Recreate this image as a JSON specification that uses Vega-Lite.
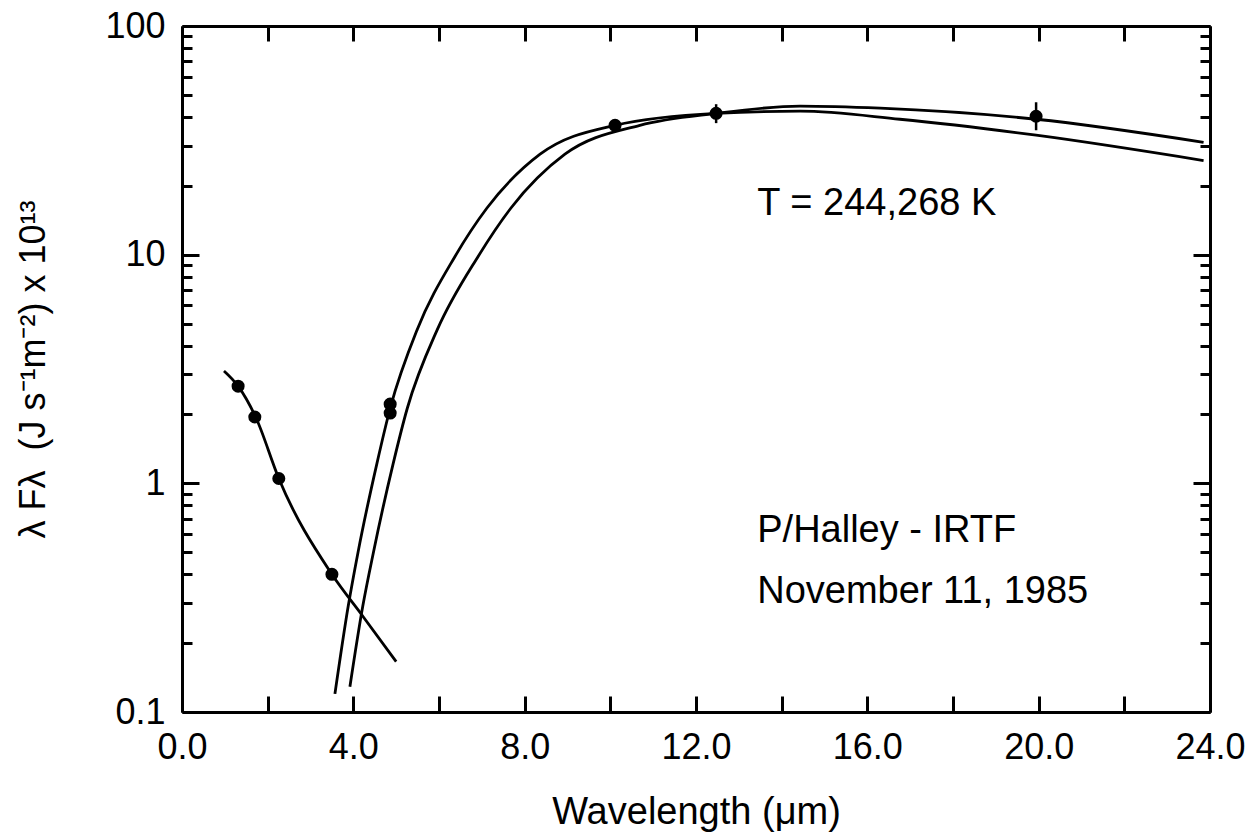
{
  "$schema": "https://vega.github.io/schema/vega-lite/v6.json",
  "width": 1028,
  "height": 686,
  "autosize": {"type": "none"},
  "padding": {"left": 182, "top": 26, "right": 48, "bottom": 124},
  "background": "white",
  "config": {
    "view": {"stroke": null},
    "font": "Liberation Sans",
    "axis": {
      "grid": false,
      "domainColor": "black",
      "domainWidth": 3,
      "tickColor": "black",
      "tickWidth": 3,
      "labelFont": "Liberation Sans",
      "labelFontSize": 36,
      "labelColor": "black",
      "titleFont": "Liberation Sans",
      "titleColor": "black",
      "titleFontWeight": "normal",
      "labelOverlap": false,
      "labelFlush": false
    }
  },
  "datasets": {
    "curves": [
      {"curve": "S", "x": 0.98, "y": 3.10},
      {"curve": "S", "x": 1.31, "y": 2.66},
      {"curve": "S", "x": 1.73, "y": 1.93},
      {"curve": "S", "x": 2.26, "y": 1.05},
      {"curve": "S", "x": 3.50, "y": 0.40},
      {"curve": "S", "x": 4.23, "y": 0.261},
      {"curve": "S", "x": 5.00, "y": 0.166},
      {"curve": "A", "x": 3.57, "y": 0.12},
      {"curve": "A", "x": 3.88, "y": 0.29},
      {"curve": "A", "x": 4.11, "y": 0.50},
      {"curve": "A", "x": 4.55, "y": 1.22},
      {"curve": "A", "x": 4.86, "y": 2.13},
      {"curve": "A", "x": 5.49, "y": 4.7},
      {"curve": "A", "x": 6.37, "y": 9.8},
      {"curve": "A", "x": 7.12, "y": 16.0},
      {"curve": "A", "x": 8.36, "y": 27.5},
      {"curve": "A", "x": 10.11, "y": 36.8},
      {"curve": "A", "x": 12.47, "y": 41.5},
      {"curve": "A", "x": 14.43, "y": 42.4},
      {"curve": "A", "x": 16.76, "y": 39.1},
      {"curve": "A", "x": 19.94, "y": 33.3},
      {"curve": "A", "x": 23.85, "y": 25.8},
      {"curve": "B", "x": 3.92, "y": 0.129},
      {"curve": "B", "x": 4.22, "y": 0.29},
      {"curve": "B", "x": 4.47, "y": 0.50},
      {"curve": "B", "x": 4.93, "y": 1.22},
      {"curve": "B", "x": 5.26, "y": 2.13},
      {"curve": "B", "x": 5.96, "y": 4.7},
      {"curve": "B", "x": 6.91, "y": 9.8},
      {"curve": "B", "x": 7.68, "y": 16.0},
      {"curve": "B", "x": 8.94, "y": 27.5},
      {"curve": "B", "x": 10.69, "y": 36.8},
      {"curve": "B", "x": 12.47, "y": 41.5},
      {"curve": "B", "x": 14.43, "y": 44.6},
      {"curve": "B", "x": 16.30, "y": 43.7},
      {"curve": "B", "x": 19.94, "y": 39.1},
      {"curve": "B", "x": 23.85, "y": 31.0}
    ],
    "points": [
      {"x": 1.31, "y": 2.66},
      {"x": 1.70, "y": 1.95},
      {"x": 2.26, "y": 1.05},
      {"x": 3.50, "y": 0.40},
      {"x": 4.86, "y": 2.22},
      {"x": 4.86, "y": 2.03},
      {"x": 10.11, "y": 36.8},
      {"x": 12.47, "y": 41.5},
      {"x": 19.94, "y": 40.3}
    ],
    "errors": [
      {"x": 12.47, "lo": 37.6, "hi": 45.5},
      {"x": 19.94, "lo": 35.0, "hi": 46.4}
    ],
    "notes": [
      {"x": 13.43, "y": 14.9, "label": "T = 244,268 K"},
      {"x": 13.43, "y": 0.552, "label": "P/Halley - IRTF"},
      {"x": 13.43, "y": 0.299, "label": "November 11, 1985"}
    ]
  },
  "layer": [
    {
      "data": {"name": "curves"},
      "mark": {"type": "line", "color": "black", "strokeWidth": 2.8, "interpolate": "monotone"},
      "encoding": {
        "x": {
          "field": "x", "type": "quantitative",
          "scale": {"domain": [0, 24], "nice": false, "zero": false},
          "axis": {
            "orient": "bottom",
            "values": [0, 2, 4, 6, 8, 10, 12, 14, 16, 18, 20, 22, 24],
            "tickSize": -16,
            "labelExpr": "datum.value % 4 == 0 ? format(datum.value, '.1f') : ''",
            "labelPadding": 34,
            "title": "Wavelength (μm)",
            "titleFontSize": 38,
            "titlePadding": 28
          }
        },
        "y": {
          "field": "y", "type": "quantitative",
          "scale": {"type": "log", "domain": [0.1, 100], "nice": false},
          "axis": {
            "orient": "left",
            "values": [0.1, 0.2, 0.3, 0.4, 0.5, 0.6, 0.7, 0.8, 0.9, 1, 2, 3, 4, 5, 6, 7, 8, 9, 10, 20, 30, 40, 50, 60, 70, 80, 90, 100],
            "tickSize": {"condition": {"test": "datum.value == 0.1 || datum.value == 1 || datum.value == 10 || datum.value == 100", "value": -17}, "value": -10},
            "labelExpr": "datum.value == 0.1 ? '0.1' : datum.value == 1 ? '1' : datum.value == 10 ? '10' : datum.value == 100 ? '100' : ''",
            "labelPadding": 34,
            "title": "λ Fλ\u00a0\u00a0(J s⁻¹m⁻²) x 10¹³",
            "titleFontSize": 36,
            "titlePadding": 52
          }
        },
        "detail": {"field": "curve", "type": "nominal"}
      }
    },
    {
      "data": {"name": "errors"},
      "mark": {"type": "rule", "color": "black", "strokeWidth": 2.5},
      "encoding": {
        "x": {"field": "x", "type": "quantitative", "axis": null},
        "y": {"field": "lo", "type": "quantitative", "axis": null},
        "y2": {"field": "hi"}
      }
    },
    {
      "data": {"name": "points"},
      "mark": {"type": "circle", "color": "black", "opacity": 1, "size": 170},
      "encoding": {
        "x": {"field": "x", "type": "quantitative", "axis": null},
        "y": {"field": "y", "type": "quantitative", "axis": null}
      }
    },
    {
      "data": {"name": "notes"},
      "mark": {"type": "text", "align": "left", "baseline": "alphabetic", "color": "black", "font": "Liberation Sans", "fontSize": 38},
      "encoding": {
        "x": {"field": "x", "type": "quantitative", "axis": null},
        "y": {"field": "y", "type": "quantitative", "axis": null},
        "text": {"field": "label"}
      }
    },
    {
      "data": {"name": "points"},
      "mark": {"type": "point", "opacity": 0},
      "encoding": {
        "x": {
          "field": "x", "type": "quantitative",
          "axis": {
            "orient": "top",
            "values": [0, 2, 4, 6, 8, 10, 12, 14, 16, 18, 20, 22, 24],
            "tickSize": -15,
            "labels": false,
            "title": null
          }
        },
        "y": {
          "field": "y", "type": "quantitative",
          "axis": {
            "orient": "right",
            "values": [0.1, 0.2, 0.3, 0.4, 0.5, 0.6, 0.7, 0.8, 0.9, 1, 2, 3, 4, 5, 6, 7, 8, 9, 10, 20, 30, 40, 50, 60, 70, 80, 90, 100],
            "tickSize": {"condition": {"test": "datum.value == 0.1 || datum.value == 1 || datum.value == 10 || datum.value == 100", "value": -17}, "value": -10},
            "labels": false,
            "title": null
          }
        }
      }
    }
  ],
  "resolve": {"axis": {"x": "independent", "y": "independent"}}
}
